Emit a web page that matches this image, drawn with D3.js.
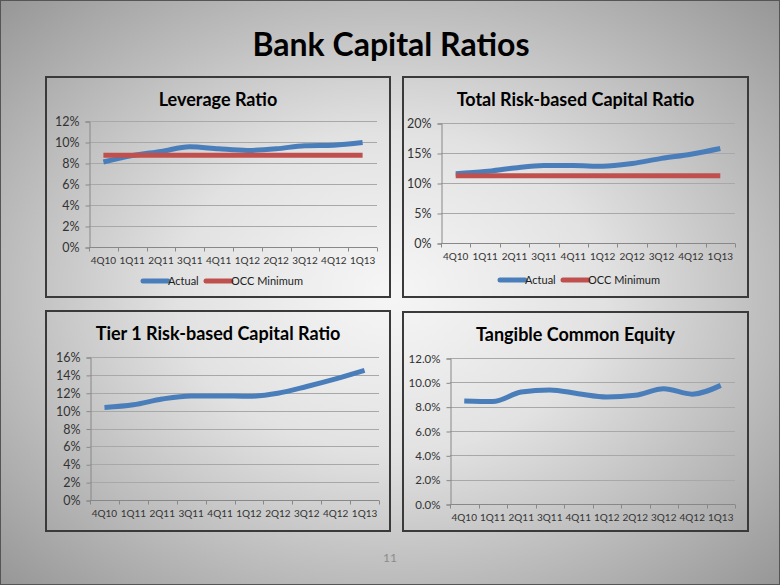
<!DOCTYPE html>
<html>
<head>
<meta charset="utf-8">
<script src="https://cdn.jsdelivr.net/npm/d3@7"></script>
<style>
  body { margin: 0; background: #fff; }
  svg text { font-family: Lato, "Open Sans", sans-serif; }
</style>
</head>
<body>
<div id="slide"></div>
<script>
// quarters shown on every panel
const quarters = ["4Q10", "1Q11", "2Q11", "3Q11", "4Q11", "1Q12", "2Q12", "3Q12", "4Q12", "1Q13"];

// series values (percent)
const leverageActual = [8.1, 8.7, 9.1, 9.55, 9.35, 9.2, 9.35, 9.65, 9.7, 9.95];
const leverageOcc = [8.75, 8.75, 8.75, 8.75, 8.75, 8.75, 8.75, 8.75, 8.75, 8.75];
const totalRiskActual = [11.55, 11.9, 12.5, 12.9, 12.9, 12.8, 13.25, 14.1, 14.8, 15.75];
const totalRiskOcc = [11.2, 11.2, 11.2, 11.2, 11.2, 11.2, 11.2, 11.2, 11.2, 11.2];
const tier1Actual = [10.35, 10.65, 11.3, 11.65, 11.65, 11.6, 11.95, 12.7, 13.55, 14.5];
const tceActual = [8.47, 8.42, 9.2, 9.38, 9.07, 8.8, 8.93, 9.47, 9.03, 9.75];

// y-axis tick values
const leverageTicks = [0, 2, 4, 6, 8, 10, 12];
const totalRiskTicks = [0, 5, 10, 15, 20];
const tier1Ticks = [0, 2, 4, 6, 8, 10, 12, 14, 16];
const tceTicks = [0, 2, 4, 6, 8, 10, 12];

const seriesNames = ["Actual", "OCC Minimum"];
const blue = "#4a7ebb";
const red = "#c0504d";

const width = 780;
const height = 585;

const svg = d3.select("#slide")
  .append("svg")
  .attr("width", width)
  .attr("height", height);

// slide background: soft grey radial gradient
const grad = svg.append("defs")
  .append("radialGradient")
  .attr("id", "bg")
  .attr("cx", 0.5).attr("cy", 0.5).attr("r", 0.78);
grad.append("stop").attr("offset", 0).attr("stop-color", "#f6f6f6");
grad.append("stop").attr("offset", 0.35).attr("stop-color", "#e2e2e2");
grad.append("stop").attr("offset", 1).attr("stop-color", "#8a8a8a");

svg.append("rect")
  .attr("x", 0.5).attr("y", 0.5)
  .attr("width", width - 1).attr("height", height - 1)
  .attr("fill", "url(#bg)")
  .attr("stroke", "#555");

svg.append("text")
  .attr("x", 391)
  .attr("y", 56)
  .attr("text-anchor", "middle")
  .style("font-size", "32px")
  .style("font-weight", "bold")
  .attr("fill", "#000")
  .text("Bank Capital Ratios");

svg.append("text")
  .attr("x", 390)
  .attr("y", 562)
  .attr("text-anchor", "middle")
  .style("font-size", "12px")
  .attr("fill", "#8c8c8c")
  .text("11");

// one chart panel
function drawPanel(cfg) {
  const g = svg.append("g");

  g.append("rect")
    .attr("x", cfg.box[0]).attr("y", cfg.box[1])
    .attr("width", cfg.box[2] - cfg.box[0])
    .attr("height", cfg.box[3] - cfg.box[1])
    .attr("fill", "none")
    .attr("stroke", "#3a3a3a")
    .attr("stroke-width", 2);

  g.append("text")
    .attr("x", (cfg.box[0] + cfg.box[2]) / 2)
    .attr("y", cfg.box[1] + 29)
    .attr("text-anchor", "middle")
    .style("font-size", "18px")
    .style("font-weight", "bold")
    .attr("fill", "#000")
    .text(cfg.title);

  const x = d3.scaleBand()
    .domain(quarters)
    .range([cfg.plot[0], cfg.plot[2]]);

  const y = d3.scaleLinear()
    .domain([0, d3.max(cfg.ticks)])
    .range([cfg.plot[3], cfg.plot[1]]);

  // gridlines
  g.append("g")
    .selectAll("line")
    .data(cfg.ticks.filter(t => t > 0))
    .enter()
    .append("line")
    .attr("x1", cfg.plot[0]).attr("x2", cfg.plot[2])
    .attr("y1", d => Math.round(y(d)) + 0.5)
    .attr("y2", d => Math.round(y(d)) + 0.5)
    .attr("stroke", "#a8a8a8");

  // y axis
  const yAxis = g.append("g")
    .attr("transform", `translate(${cfg.plot[0] + 0.5},0.5)`)
    .call(d3.axisLeft(y)
      .tickValues(cfg.ticks)
      .tickSize(4)
      .tickPadding(6)
      .tickFormat(d => d3.format(cfg.fmt)(d / 100)));

  // x axis with ticks between categories
  const xAxis = g.append("g")
    .attr("transform", `translate(0,${Math.round(cfg.plot[3]) + 0.5})`)
    .call(d3.axisBottom(x).tickSize(0).tickPadding(9));

  xAxis.selectAll(".sep")
    .data(d3.range(quarters.length + 1))
    .enter()
    .append("line")
    .attr("class", "sep")
    .attr("x1", i => Math.round(cfg.plot[0] + i * x.step()) + 0.5)
    .attr("x2", i => Math.round(cfg.plot[0] + i * x.step()) + 0.5)
    .attr("y1", 0).attr("y2", 4)
    .attr("stroke", "#888");

  [yAxis, xAxis].forEach(a => {
    a.select(".domain").attr("stroke", "#888");
    a.selectAll(".tick line").attr("stroke", "#888");
    a.selectAll("text")
      .style("font-family", "Lato, sans-serif")
      .attr("fill", "#333");
  });
  xAxis.selectAll("text").style("font-size", "10px");
  yAxis.selectAll("text").style("font-size", cfg.yFont);
  xAxis.select(".domain").attr("d", `M${cfg.plot[0]},0H${cfg.plot[2]}`);

  const line = d3.line()
    .x((d, i) => x(quarters[i]) + x.bandwidth() / 2)
    .y(d => y(d))
    .curve(d3.curveMonotoneX);

  cfg.series.forEach(s => {
    g.append("path")
      .datum(s.values)
      .attr("d", line)
      .attr("fill", "none")
      .attr("stroke", s.color)
      .attr("stroke-width", 5)
      .attr("stroke-linejoin", "round");
  });

  if (cfg.legend) {
    const key = g.append("g")
      .selectAll("g")
      .data(cfg.series)
      .enter()
      .append("g")
      .attr("transform", (d, i) => `translate(${cfg.legend[0] + i * 63},${cfg.legend[1]})`);

    key.append("line")
      .attr("x1", 0).attr("x2", 25)
      .attr("stroke", d => d.color)
      .attr("stroke-width", 5)
      .attr("stroke-linecap", "round");

    key.append("text")
      .attr("x", 25)
      .attr("y", 4)
      .style("font-size", "11px")
      .attr("fill", "#222")
      .text(d => d.name);
  }
}

drawPanel({
  title: "Leverage Ratio",
  box: [46, 77, 390, 297],
  plot: [89, 121, 377, 247],
  ticks: leverageTicks,
  fmt: ".0%",
  yFont: "12.5px",
  series: [
    { name: seriesNames[0], values: leverageActual, color: blue },
    { name: seriesNames[1], values: leverageOcc, color: red }
  ],
  legend: [143, 281]
});

drawPanel({
  title: "Total Risk-based Capital Ratio",
  box: [403, 77, 748, 297],
  plot: [441, 123, 735, 243],
  ticks: totalRiskTicks,
  fmt: ".0%",
  yFont: "12.5px",
  series: [
    { name: seriesNames[0], values: totalRiskActual, color: blue },
    { name: seriesNames[1], values: totalRiskOcc, color: red }
  ],
  legend: [500, 280]
});

drawPanel({
  title: "Tier 1 Risk-based Capital Ratio",
  box: [46, 311, 390, 531],
  plot: [90, 357, 379, 500],
  ticks: tier1Ticks,
  fmt: ".0%",
  yFont: "12.5px",
  series: [
    { name: seriesNames[0], values: tier1Actual, color: blue }
  ]
});

drawPanel({
  title: "Tangible Common Equity",
  box: [403, 312, 748, 531],
  plot: [450, 358, 735, 504],
  ticks: tceTicks,
  fmt: ".1%",
  yFont: "11.5px",
  series: [
    { name: seriesNames[0], values: tceActual, color: blue }
  ]
});
</script>
</body>
</html>
